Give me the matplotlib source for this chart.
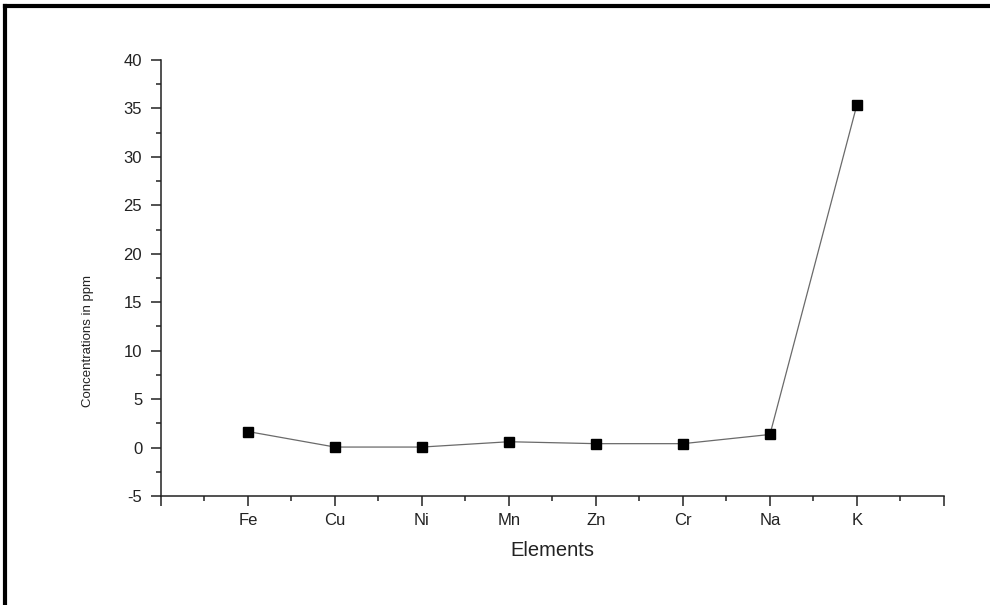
import matplotlib
matplotlib.use("Agg")
import matplotlib.pyplot as plt
from matplotlib.lines import Line2D
from matplotlib.ticker import MultipleLocator
from matplotlib import font_manager

elements = ["Fe", "Cu", "Ni", "Mn", "Zn", "Cr", "Na", "K"]
concentrations = [1.65, 0.05, 0.05, 0.6, 0.4, 0.4, 1.35, 35.4]
y_ticks = [-5, 0, 5, 10, 15, 20, 25, 30, 35, 40]

names = {f.name for f in font_manager.fontManager.ttflist}
base_font = "Liberation Sans" if "Liberation Sans" in names else "DejaVu Sans"
narrow_font = "Liberation Sans Narrow" if "Liberation Sans Narrow" in names else base_font

plt.rcParams["font.family"] = base_font
plt.rcParams["axes.unicode_minus"] = False

fig = plt.figure(figsize=(9.9, 6.05), dpi=100)
ax = fig.add_axes([0.1626, 0.1802, 0.9535 - 0.1626, 0.9008 - 0.1802])

x = list(range(1, len(elements) + 1))
ax.plot(x, concentrations, color="#6a6a6a", lw=0.9, zorder=2)
ax.plot(x, concentrations, ls="none", marker="s", ms=7, mfc="black", mec="black", zorder=3)

ax.set_xlim(0, len(elements) + 1)
ax.set_ylim(-5, 40)
ax.set_xticks(range(0, len(elements) + 2))
ax.set_xticklabels([""] + elements + [""])
ax.xaxis.set_minor_locator(MultipleLocator(0.5))
ax.set_yticks(y_ticks)
ax.yaxis.set_minor_locator(MultipleLocator(2.5))

for s in ["top", "right"]:
    ax.spines[s].set_visible(False)
for s in ["left", "bottom"]:
    ax.spines[s].set_linewidth(1.1)
    ax.spines[s].set_color("#222222")

ax.tick_params(which="major", direction="out", length=7.5, width=1.1, color="#222222",
               labelsize=12, labelcolor="#222222")
ax.tick_params(which="minor", direction="out", length=3.8, width=1.1, color="#222222")
ax.tick_params(axis="x", pad=5)
ax.tick_params(axis="y", pad=6)

ax.set_xlabel("Elements", fontsize=14.5, color="#222222", labelpad=9)
fig.text(0.089, 0.436, "Concentrations in ppm", rotation=90, va="center", ha="center",
         fontsize=9.5, family=narrow_font, color="#222222")

# figure border (top and left)
fig.add_artist(Line2D([0.0052, 1.0], [0.9909, 0.9909], transform=fig.transFigure,
                      color="black", lw=3))
fig.add_artist(Line2D([0.0052, 0.0052], [0.0, 0.9909], transform=fig.transFigure,
                      color="black", lw=3))

fig.savefig("out.png", dpi=100)
